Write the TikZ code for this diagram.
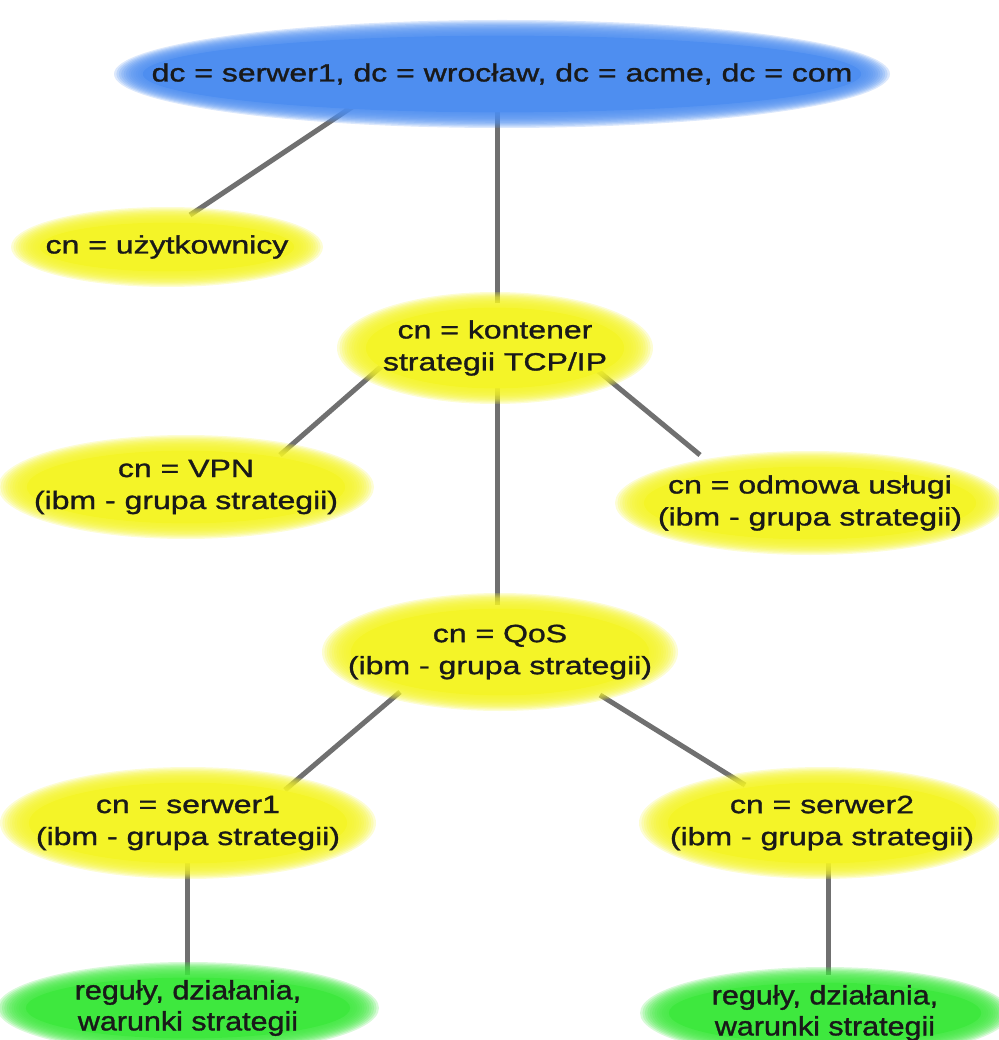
\documentclass[tikz,border=0pt]{standalone}
\usepackage{fontspec}
\setmainfont{Liberation Sans}[FakeStretch=1.28,FakeBold=1.2]
\newfontfamily\narrowsans{Liberation Sans}[FakeStretch=1.15,FakeBold=1.3]
\pgfdeclarelayer{lines}
\pgfdeclarelayer{glow}
\pgfsetlayers{lines,glow,main}
\definecolor{blueglow}{RGB}{78,142,240}
\definecolor{yelglow}{RGB}{244,244,40}
\definecolor{grnglow}{RGB}{62,232,62}
\definecolor{edgegray}{RGB}{112,112,112}
\tikzset{
  txt/.style={font=\fontsize{25}{32}\selectfont, align=center, inner sep=0pt, text=black!90},
  gtxt/.style={txt, font=\narrowsans\fontsize{26.5}{31}\selectfont},
  link/.style={line width=5pt, draw=edgegray},
  glowring/.style={fill=#1, opacity=0.2},
  glowcore/.style={fill=#1}
}
\newcommand\glowell[4]{\begin{pgfonlayer}{glow}%
\foreach \k in {0,...,11}{\fill[glowring=#2] (#1.center) ellipse [x radius={#3pt-\k*2.4pt}, y radius={#4pt-\k*1.3pt}];}%
\fill[glowcore=#2] (#1.center) ellipse [x radius={#3pt-28.8pt}, y radius={#4pt-15.6pt}];%
\end{pgfonlayer}}
\begin{document}
\begin{tikzpicture}[x=1pt,y=-1pt]
\useasboundingbox (0,0) rectangle (998,1040);
% nodes
\node[txt] (root) at (502,74) {dc = serwer1, dc = wrocław, dc = acme, dc = com};
\node[txt] (user) at (167,247) {cn = użytkownicy};
\node[txt] (kont) at (495,348) {cn = kontener\\strategii TCP/IP};
\node[txt] (vpn) at (186,487) {cn = VPN\\(ibm - grupa strategii)};
\node[txt] (odm) at (810,503) {cn = odmowa usługi\\(ibm - grupa strategii)};
\node[txt] (qos) at (500,652) {cn = QoS\\(ibm - grupa strategii)};
\node[txt] (s1) at (188,823) {cn = serwer1\\(ibm - grupa strategii)};
\node[txt] (s2) at (822,823) {cn = serwer2\\(ibm - grupa strategii)};
\node[gtxt] (r1) at (188,1008) {reguły, działania,\\warunki strategii};
\node[gtxt] (r2) at (825,1013) {reguły, działania,\\warunki strategii};
% glows
\glowell{root}{blueglow}{388}{54}
\glowell{user}{yelglow}{156}{40}
\glowell{kont}{yelglow}{158}{56}
\glowell{vpn}{yelglow}{188}{52}
\glowell{odm}{yelglow}{195}{52}
\glowell{qos}{yelglow}{178}{59}
\glowell{s1}{yelglow}{188}{56}
\glowell{s2}{yelglow}{183}{56}
\glowell{r1}{grnglow}{191}{46}
\glowell{r2}{grnglow}{185}{46}
% links
\begin{pgfonlayer}{lines}
\draw[link] ([shift={(-147,31)}]root.center) -- ([shift={(23,-32)}]user.center);
\draw[link] ([shift={(-5,31)}]root.center) -- ([shift={(2,-45)}]kont.center);
\draw[link] ([shift={(-112,17)}]kont.center) -- ([shift={(94,-32)}]vpn.center);
\draw[link] ([shift={(102,22)}]kont.center) -- ([shift={(-110,-48)}]odm.center);
\draw[link] ([shift={(2,37)}]kont.center) -- ([shift={(-3,-47)}]qos.center);
\draw[link] ([shift={(-100,40)}]qos.center) -- ([shift={(97,-33)}]s1.center);
\draw[link] ([shift={(100,43)}]qos.center) -- ([shift={(-77,-38)}]s2.center);
\draw[link] ([shift={(-1,37)}]s1.center) -- ([shift={(-1,-33)}]r1.center);
\draw[link] ([shift={(6,37)}]s2.center) -- ([shift={(3,-38)}]r2.center);
\end{pgfonlayer}
\end{tikzpicture}
\end{document}
